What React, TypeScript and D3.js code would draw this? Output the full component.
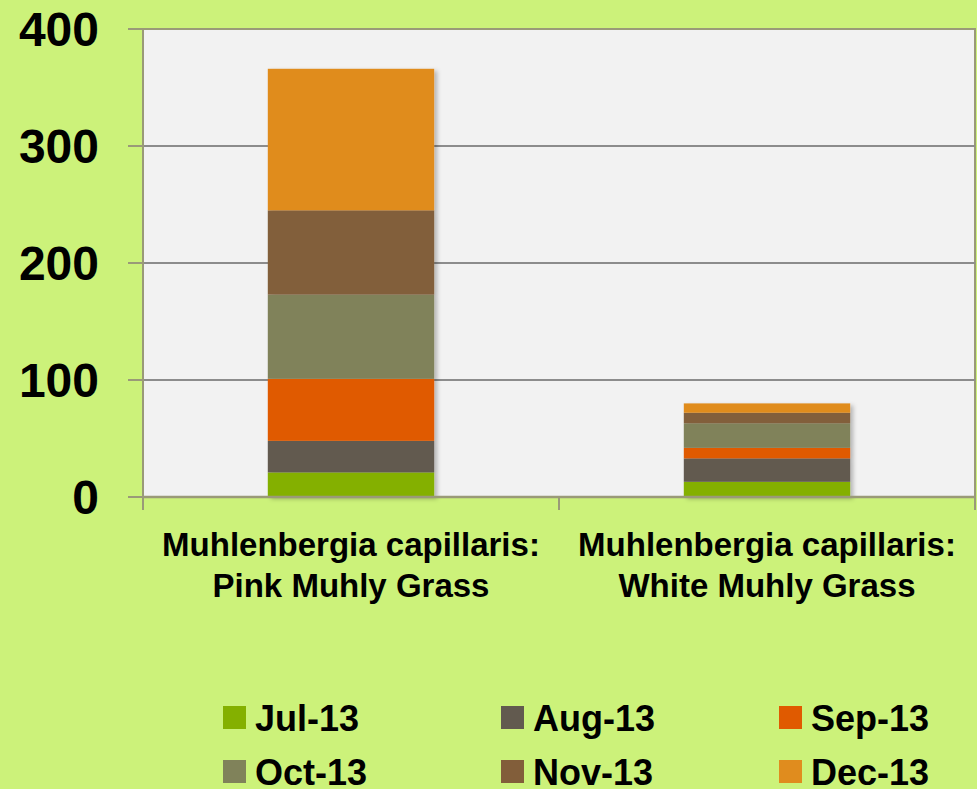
import { useEffect, useRef } from 'react';
import * as d3 from 'd3';

// data
const categories = ['Muhlenbergia capillaris: Pink Muhly Grass', 'Muhlenbergia capillaris: White Muhly Grass'];
const categoryLines = [
  ['Muhlenbergia capillaris:', 'Pink Muhly Grass'],
  ['Muhlenbergia capillaris:', 'White Muhly Grass'],
];
const months = ['Jul-13', 'Aug-13', 'Sep-13', 'Oct-13', 'Nov-13', 'Dec-13'];
const pinkValues = [21, 27, 53, 72, 72, 121];
const whiteValues = [13, 20, 9, 21, 9, 8];
const yTicks = [0, 100, 200, 300, 400];
const colors = ['#84b000', '#625a4f', '#e05a00', '#80825a', '#825e3a', '#e08c1e'];

export default function App() {
  const ref = useRef(null);

  useEffect(() => {
    document.body.style.margin = '0';
    const svg = d3.select(ref.current);
    svg.selectAll('*').remove();

    const width = 977, height = 789;
    const margin = { top: 29, right: 2, bottom: 292, left: 143 };
    const innerW = width - margin.left - margin.right;
    const innerH = height - margin.top - margin.bottom;

    svg.append('rect').attr('width', width).attr('height', height).attr('fill', '#ccf27a');

    const defs = svg.append('defs');
    const f = defs.append('filter').attr('id', 'shadow').attr('x', '-10%').attr('y', '-10%').attr('width', '130%').attr('height', '130%');
    f.append('feDropShadow').attr('dx', 3).attr('dy', 2).attr('stdDeviation', 2).attr('flood-color', '#000').attr('flood-opacity', 0.25);

    const g = svg.append('g').attr('transform', `translate(${margin.left},${margin.top})`);

    const x = d3.scaleBand().domain(categories).range([0, innerW]).paddingInner(0.6).paddingOuter(0.3);
    const y = d3.scaleLinear().domain([0, 400]).range([innerH, 0]);

    // plot area
    g.append('rect').attr('width', innerW).attr('height', innerH).attr('fill', '#f2f2f2')
      .attr('stroke', '#9a9a78').attr('stroke-width', 2);

    // grid lines
    g.selectAll('.grid').data(yTicks.filter(d => d > 0 && d < 400)).enter().append('line')
      .attr('x1', 0).attr('x2', innerW)
      .attr('y1', d => y(d)).attr('y2', d => y(d))
      .attr('stroke', '#8c8c8c').attr('stroke-width', 2);

    // stacked bars
    const rows = categories.map((c, i) => {
      const vals = i === 0 ? pinkValues : whiteValues;
      const r: any = { cat: c };
      months.forEach((m, j) => { r[m] = vals[j]; });
      return r;
    });
    const series = d3.stack().keys(months)(rows);

    const barG = g.append('g').attr('filter', 'url(#shadow)');
    series.forEach((s, i) => {
      barG.selectAll(`.s${i}`).data(s).enter().append('rect')
        .attr('x', d => x(d.data.cat))
        .attr('width', x.bandwidth())
        .attr('y', d => y(d[1]))
        .attr('height', d => y(d[0]) - y(d[1]))
        .attr('fill', colors[i]);
    });

    // y axis
    g.append('line').attr('x1', 0).attr('x2', 0).attr('y1', 0).attr('y2', innerH + 13)
      .attr('stroke', '#9a9a78').attr('stroke-width', 2);
    g.selectAll('.ytick').data(yTicks).enter().append('line')
      .attr('x1', -15).attr('x2', 0).attr('y1', d => y(d)).attr('y2', d => y(d))
      .attr('stroke', '#9a9a78').attr('stroke-width', 2);
    g.selectAll('.ylab').data(yTicks).enter().append('text')
      .attr('x', -44).attr('y', d => y(d))
      .attr('dy', '0.36em')
      .attr('text-anchor', 'end')
      .attr('font-family', '"Liberation Sans", Arial, sans-serif')
      .attr('font-weight', 'bold').attr('font-size', 48).attr('fill', '#000')
      .text(d => d);

    // x axis
    g.append('line').attr('x1', 0).attr('x2', innerW).attr('y1', innerH).attr('y2', innerH)
      .attr('stroke', '#9a9a78').attr('stroke-width', 2.5);
    const step = x.step();
    const edges = [0, step, 2 * step].map(v => Math.min(v + (x(categories[0]) - step * x.paddingInner() / 2), innerW));
    g.selectAll('.xtick').data(edges).enter().append('line')
      .attr('x1', d => d).attr('x2', d => d).attr('y1', innerH).attr('y2', innerH + 13)
      .attr('stroke', '#9a9a78').attr('stroke-width', 2);

    categories.forEach((c, i) => {
      const cx = x(c) + x.bandwidth() / 2;
      const t = g.append('text')
        .attr('text-anchor', 'middle')
        .attr('font-family', '"Liberation Sans", Arial, sans-serif')
        .attr('font-weight', 'bold').attr('font-size', 33).attr('fill', '#000');
      categoryLines[i].forEach((line, k) => {
        t.append('tspan').attr('x', cx).attr('y', innerH + 59 + k * 41).text(line);
      });
    });

    // legend
    const leg = svg.append('g');
    months.forEach((m, i) => {
      const col = i % 3, row = Math.floor(i / 3);
      const lx = 223 + col * 278, ly = 706 + row * 54;
      leg.append('rect').attr('x', lx).attr('y', ly).attr('width', 23).attr('height', 23).attr('fill', colors[i]);
      leg.append('text').attr('x', lx + 32).attr('y', ly + 25)
        .attr('font-family', '"Liberation Sans", Arial, sans-serif')
        .attr('font-weight', 'bold').attr('font-size', 36).attr('fill', '#000')
        .text(m);
    });
  }, []);

  return <svg ref={ref} width={977} height={789} style={{ display: 'block' }} />;
}
